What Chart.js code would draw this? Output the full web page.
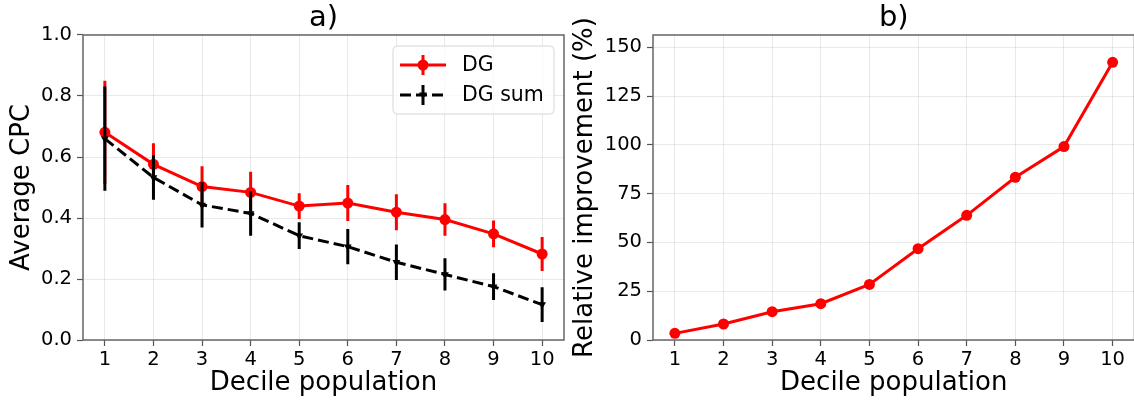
<!DOCTYPE html>
<html>
<head>
<meta charset="utf-8">
<script src="https://cdn.jsdelivr.net/npm/chart.js@4.4.0/dist/chart.umd.min.js"></script>
<style>
html, body { margin: 0; padding: 0; background: #fff; }
body { width: 1134px; height: 406px; overflow: hidden; position: relative; }
canvas { position: absolute; top: 0; }
#cpc { left: 0; }
#impr { left: 567px; }
</style>
</head>
<body>
<canvas id="cpc" width="567" height="406"></canvas>
<canvas id="impr" width="570" height="406"></canvas>
<script>
// values
var deciles = [1, 2, 3, 4, 5, 6, 7, 8, 9, 10];
var dg = [0.681, 0.576, 0.503, 0.484, 0.439, 0.449, 0.419, 0.395, 0.348, 0.282];
var dg_err = [0.169, 0.069, 0.067, 0.068, 0.042, 0.059, 0.059, 0.053, 0.044, 0.056];
var dg_sum = [0.660, 0.533, 0.443, 0.415, 0.342, 0.306, 0.255, 0.215, 0.175, 0.116];
var dg_sum_err = [0.171, 0.073, 0.074, 0.073, 0.044, 0.058, 0.058, 0.053, 0.044, 0.057];
var improvement = [3.4, 8.2, 14.5, 18.6, 28.5, 46.8, 63.9, 83.4, 99.1, 142.3];
var cpc_ticks = [0, 0.2, 0.4, 0.6, 0.8, 1.0];
var impr_ticks = [0, 25, 50, 75, 100, 125, 150];

Chart.defaults.font.family = "'DejaVu Sans'";
Chart.defaults.color = '#000';

function points(ys) {
    return deciles.map(function(d, i) { return {x: d, y: ys[i]}; });
}

function set_ticks(values) {
    return function(scale) {
        scale.ticks = values.map(function(v) { return {value: v}; });
    };
}

// box around the plot area, like matplotlib spines
var frame_plugin = {
    id: 'frame',
    afterDraw: function(chart) {
        var a = chart.chartArea, ctx = chart.ctx;
        ctx.save();
        ctx.strokeStyle = '#666';
        ctx.lineWidth = 1.5;
        ctx.strokeRect(a.left, a.top, a.right - a.left, a.bottom - a.top);
        ctx.restore();
    }
};

// vertical error bars, drawn under each dataset
var errorbar_plugin = {
    id: 'errorbars',
    beforeDatasetDraw: function(chart, args) {
        var ds = chart.data.datasets[args.index];
        if (!ds.errors) return;
        var xs = chart.scales.x, ys = chart.scales.y, ctx = chart.ctx;
        ctx.save();
        ctx.strokeStyle = ds.borderColor;
        ctx.lineWidth = 3;
        ctx.beginPath();
        ds.data.forEach(function(p, i) {
            var x = xs.getPixelForValue(p.x);
            ctx.moveTo(x, ys.getPixelForValue(p.y - ds.errors[i]));
            ctx.lineTo(x, ys.getPixelForValue(p.y + ds.errors[i]));
        });
        ctx.stroke();
        ctx.restore();
    }
};

// legend with line + marker + errorbar samples
var legend_plugin = {
    id: 'mpl_legend',
    afterDraw: function(chart) {
        var a = chart.chartArea, ctx = chart.ctx;
        var bx = a.right - 171, by = a.top + 11, bw = 161, bh = 68;
        ctx.save();
        ctx.beginPath();
        ctx.roundRect(bx, by, bw, bh, 4);
        ctx.fillStyle = 'rgba(255,255,255,0.8)';
        ctx.fill();
        ctx.strokeStyle = '#d6d6d6';
        ctx.lineWidth = 1;
        ctx.stroke();

        var x0 = bx + 7, x1 = bx + 53, xm = bx + 30;
        var rows = chart.data.datasets;
        rows.forEach(function(ds, i) {
            var y = by + 19 + i * 30;
            ctx.strokeStyle = ds.borderColor;
            ctx.lineWidth = 3;
            ctx.setLineDash(ds.borderDash || []);
            ctx.beginPath();
            ctx.moveTo(x0, y);
            ctx.lineTo(x1, y);
            ctx.stroke();
            ctx.setLineDash([]);
            ctx.beginPath();
            ctx.moveTo(xm, y - 10);
            ctx.lineTo(xm, y + 10);
            ctx.stroke();
            ctx.fillStyle = ds.pointBackgroundColor;
            ctx.beginPath();
            if (ds.pointStyle === 'triangle') {
                ctx.moveTo(xm - 4, y - 2.5);
                ctx.lineTo(xm + 4, y - 2.5);
                ctx.lineTo(xm, y + 4);
                ctx.closePath();
            } else {
                ctx.arc(xm, y, 5.5, 0, Math.PI * 2);
            }
            ctx.fill();
            ctx.fillStyle = '#000';
            ctx.font = "20.5px 'DejaVu Sans'";
            ctx.textBaseline = 'middle';
            ctx.fillText(ds.label, bx + 69, y + 1);
        });
        ctx.restore();
    }
};

function axes_options(title, ytitle, ytitle_pad, ywidth, yticks, ymax, yfmt) {
    return {
        responsive: false,
        animation: false,
        layout: {autoPadding: false, padding: {left: 0, right: 3, top: 0, bottom: 0}},
        plugins: {
            legend: {display: false},
            tooltip: {enabled: false},
            title: {
                display: true,
                text: title,
                fullSize: false,
                font: {size: 29, lineHeight: 1.15, weight: 'normal'},
                color: '#000',
                padding: {top: 1.4, bottom: 0.25}
            }
        },
        scales: {
            x: {
                type: 'linear',
                min: 0.55,
                max: 10.45,
                afterBuildTicks: set_ticks(deciles),
                afterFit: function(scale) { scale.height = 66; },
                border: {display: false},
                grid: {color: 'rgba(176,176,176,0.28)', lineWidth: 1, tickColor: '#555', tickLength: 6, tickWidth: 1.2},
                ticks: {font: {size: 19.5}, padding: 2, color: '#000', maxRotation: 0, autoSkip: false},
                title: {display: true, text: 'Decile population', font: {size: 26}, color: '#000', padding: {top: 0, bottom: 7}}
            },
            y: {
                min: 0,
                max: ymax,
                afterBuildTicks: set_ticks(yticks),
                afterFit: function(scale) { scale.width = ywidth; },
                border: {display: false},
                grid: {color: 'rgba(176,176,176,0.28)', lineWidth: 1, tickColor: '#555', tickLength: 6, tickWidth: 1.2},
                ticks: {font: {size: 19.5}, padding: 5, color: '#000', autoSkip: false, callback: yfmt},
                title: {display: true, text: ytitle, font: {size: 26}, color: '#000', padding: {top: ytitle_pad, bottom: 0}}
            }
        }
    };
}

var cpc_opts = axes_options('a)', 'Average CPC', 7, 83, cpc_ticks, 1.0,
    function(v) { return v.toFixed(1); });
new Chart(document.getElementById('cpc'), {
    type: 'line',
    data: {
        datasets: [
            {
                label: 'DG',
                data: points(dg),
                errors: dg_err,
                borderColor: '#ff0000',
                backgroundColor: '#ff0000',
                pointBackgroundColor: '#ff0000',
                borderWidth: 3,
                tension: 0,
                pointRadius: 5.5,
                pointBorderWidth: 0,
                order: 2
            },
            {
                label: 'DG sum',
                data: points(dg_sum),
                errors: dg_sum_err,
                borderColor: '#000000',
                backgroundColor: '#000000',
                pointBackgroundColor: '#000000',
                borderWidth: 3,
                borderDash: [11, 5],
                tension: 0,
                pointStyle: 'triangle',
                pointRotation: 180,
                pointRadius: 4.5,
                pointBorderWidth: 0,
                order: 1
            }
        ]
    },
    options: cpc_opts,
    plugins: [errorbar_plugin, frame_plugin, legend_plugin]
});

var impr_opts = axes_options('b)', 'Relative improvement (%)', 2.3, 86, impr_ticks, 156.3,
    function(v) { return String(v); });
impr_opts.layout.padding.right = 2.5;
new Chart(document.getElementById('impr'), {
    type: 'line',
    data: {
        datasets: [
            {
                label: 'Relative improvement',
                data: points(improvement),
                borderColor: '#ff0000',
                backgroundColor: '#ff0000',
                pointBackgroundColor: '#ff0000',
                borderWidth: 3,
                tension: 0,
                pointRadius: 5.5,
                pointBorderWidth: 0
            }
        ]
    },
    options: impr_opts,
    plugins: [frame_plugin]
});
</script>
</body>
</html>
